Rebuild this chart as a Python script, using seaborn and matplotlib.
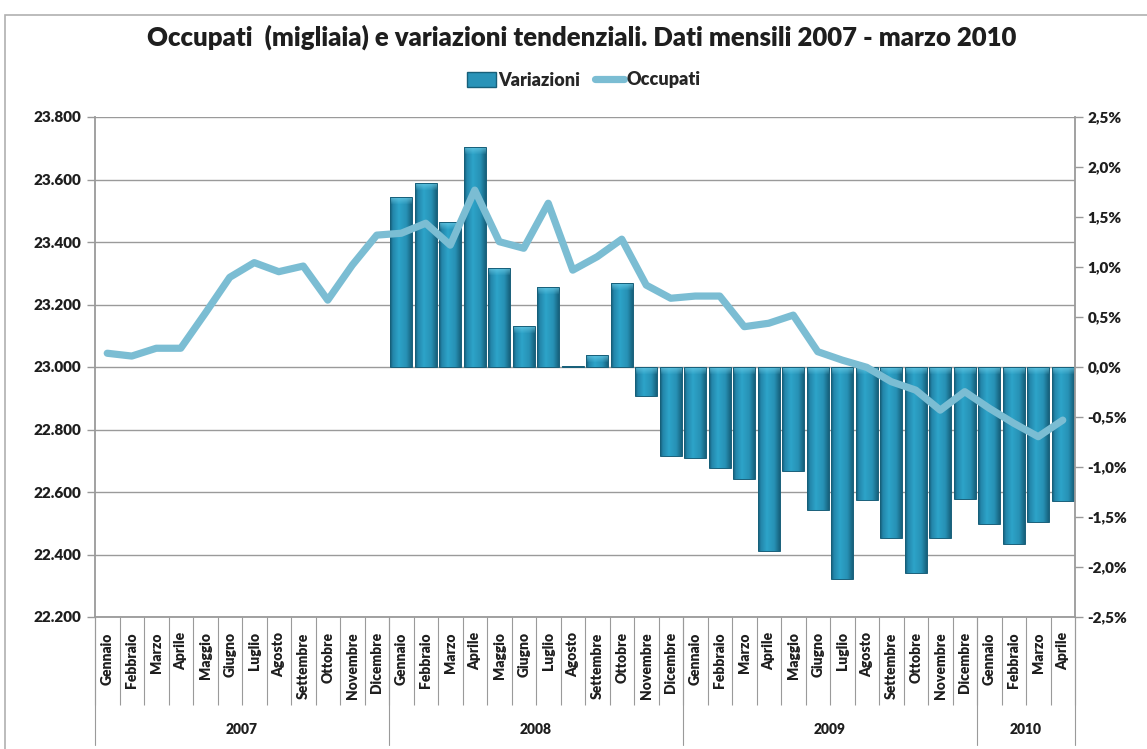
import numpy as np
import pandas as pd
import seaborn as sns
import matplotlib.pyplot as plt
from matplotlib.ticker import FuncFormatter
from matplotlib.patches import Patch, Rectangle
from matplotlib.lines import Line2D
from matplotlib.colors import LinearSegmentedColormap, to_rgb
import matplotlib.transforms as mtransforms

# data
mesi = ["Gennaio", "Febbraio", "Marzo", "Aprile", "Maggio", "Giugno", "Luglio",
        "Agosto", "Settembre", "Ottobre", "Novembre", "Dicembre"]
anni = ["2007", "2008", "2009", "2010"]
mesi_per_anno = [12, 12, 12, 4]

# occupati (migliaia), gennaio 2007 - aprile 2010
occupati = [23044, 23035, 23060, 23060, 23172, 23287, 23334, 23305, 23323, 23214, 23326, 23422,
            23428, 23460, 23390, 23566, 23401, 23380, 23524, 23310, 23353, 23409, 23262, 23220,
            23227, 23227, 23129, 23140, 23166, 23049, 23022, 22999, 22953, 22926, 22862, 22921,
            22868, 22820, 22777, 22830]

# variazioni tendenziali (%), gennaio 2008 - aprile 2010
variazioni = [1.70, 1.84, 1.45, 2.20, 0.99, 0.41, 0.80, 0.01, 0.12, 0.84, -0.29, -0.89,
              -0.91, -1.01, -1.12, -1.84, -1.04, -1.43, -2.12, -1.33, -1.71, -2.06, -1.71, -1.32,
              -1.57, -1.77, -1.55, -1.34]

etichette = [m for n in mesi_per_anno for m in mesi[:n]]
n = len(occupati)
df_occ = pd.DataFrame({"pos": np.arange(n), "Occupati": occupati})
df_var = pd.DataFrame({"pos": np.arange(n - len(variazioni), n), "Variazioni": variazioni})

sns.set_theme(style="white")
plt.rcParams["font.family"] = ["Lato", "DejaVu Sans"]

grigio = "#9a9a9a"
testo = "#1e1e1e"
col_bar = "#2993b8"
col_edge = "#175f79"
col_line = "#7bbdd3"
peso = "heavy"

fig = plt.figure(figsize=(11.47, 7.49), dpi=100)
ax = fig.add_axes([95 / 1147, 1 - 617 / 749, 980 / 1147, 500 / 749])
ax2 = ax.twinx()
ax3 = ax.twinx()

# bars on the right (percent) axis
sns.barplot(data=df_var, x="pos", y="Variazioni", ax=ax2, native_scale=True, width=0.88,
            color=col_bar, saturation=1, edgecolor=col_edge, linewidth=0.7)
# line on the left (thousands) axis
sns.lineplot(data=df_occ, x="pos", y="Occupati", ax=ax3, color=col_line, linewidth=5.2,
             solid_joinstyle="round", solid_capstyle="round")

for a in (ax, ax2, ax3):
    a.set_xlim(-0.5, n - 0.5)
ax.set_ylim(22200, 23800)
ax3.set_ylim(22200, 23800)
ax2.set_ylim(-2.5, 2.5)
ax3.axis("off")

# shaded fill for the bars (excel-like cylinder look)
grad = LinearSegmentedColormap.from_list("barre", [(0, "#155b75"), (0.12, "#2385a9"), (0.4, "#2da4c9"),
                                                   (0.75, "#2791b5"), (1, "#17627d")])
riga = grad(np.linspace(0, 1, 48))[:, :3]
chiaro = np.array(to_rgb("#74d2ec"))
for p in list(ax2.patches):
    x0, w = p.get_x(), p.get_width()
    y_a, y_b = sorted([p.get_y(), p.get_y() + p.get_height()])
    hp = abs(ax2.transData.transform((0, y_b))[1] - ax2.transData.transform((0, y_a))[1])
    hp = max(int(round(hp)), 2)
    img = np.repeat(riga[None, :, :], hp, axis=0)
    cap = min(7, hp)
    for r in range(cap):
        f = 0.65 * (1 - r / cap)
        img[r] = img[r] * (1 - f) + chiaro * f
    im = ax2.imshow(img, extent=(x0, x0 + w, y_a, y_b), aspect="auto", origin="upper",
                    interpolation="bilinear", zorder=p.get_zorder())
    im.set_clip_path(p)
    p.set_facecolor("none")
    p.set_zorder(p.get_zorder() + 0.1)
ax2.set_xlim(-0.5, n - 0.5)
ax2.set_ylim(-2.5, 2.5)

# left axis
ax.set_yticks(np.arange(22200, 23801, 200))
ax.yaxis.set_major_formatter(FuncFormatter(lambda v, p: f"{int(v):,}".replace(",", ".")))
ax.grid(axis="y", color=grigio, linewidth=1)
ax.set_axisbelow(True)
ax.tick_params(axis="y", which="major", left=True, length=6, width=1, color=grigio,
               labelsize=11, labelcolor=testo, pad=4)
for lab in ax.get_yticklabels():
    lab.set_fontweight(peso)

# right axis
ax2.set_yticks(np.arange(-2.5, 2.51, 0.5))
ax2.yaxis.set_major_formatter(FuncFormatter(lambda v, p: f"{v:.1f}%".replace(".", ",")))
ax2.tick_params(axis="y", right=True, length=6, width=1, color=grigio,
                labelsize=11, labelcolor=testo, pad=3)
for lab in ax2.get_yticklabels():
    lab.set_fontweight(peso)
ax2.set_ylabel("")
ax2.set_xlabel("")
ax2.grid(False)

for a in (ax, ax2):
    for s in a.spines.values():
        s.set_visible(False)
ax.spines["left"].set_visible(True)
ax.spines["bottom"].set_visible(True)
ax2.spines["right"].set_visible(True)
for s in (ax.spines["left"], ax.spines["bottom"], ax2.spines["right"]):
    s.set_color(grigio)
    s.set_linewidth(1.3)

# x axis: month labels + separators
ax.set_xticks(np.arange(-0.5, n, 1))
ax.set_xticklabels([])
ax.set_xticks(np.arange(n), minor=True)
ax.set_xticklabels(etichette, minor=True, rotation=90, fontsize=10, fontweight=peso, color=testo)
ax.tick_params(axis="x", which="major", bottom=True, length=63, width=0.8, color=grigio, direction="out")
ax.tick_params(axis="x", which="minor", bottom=True, length=0, pad=11)
ax.set_xlabel("")
ax.set_ylabel("")

# year row
trans = mtransforms.blended_transform_factory(ax.transData, ax.transAxes)
confini = np.concatenate([[0], np.cumsum(mesi_per_anno)]) - 0.5
for c in confini:
    ax.plot([c, c], [0, -0.256], transform=trans, color=grigio, linewidth=0.8, clip_on=False)
for i, anno in enumerate(anni):
    ax.text((confini[i] + confini[i + 1]) / 2, -0.226, anno, transform=trans, ha="center",
            va="center", fontsize=10, fontweight=peso, color=testo)

# title and legend
fig.text(0.507, 1 - 37 / 749, "Occupati  (migliaia) e variazioni tendenziali. Dati mensili 2007 - marzo 2010",
         ha="center", va="center", fontsize=18.5, fontweight=peso, color=testo)
handles = [Patch(facecolor=col_bar, edgecolor=col_edge, label="Variazioni"),
           Line2D([0], [0], color=col_line, linewidth=5.2, label="Occupati")]
fig.legend(handles=handles, loc="center", bbox_to_anchor=(0.509, 1 - 80 / 749), ncol=2, frameon=False,
           prop={"weight": peso, "size": 13}, handlelength=1.6, handleheight=0.9,
           handletextpad=0.15, columnspacing=0.8)

# outer frame
fig.patches.append(Rectangle((5 / 1147, -0.05), 1.2, 1 - 15 / 749 + 0.05, transform=fig.transFigure,
                             fill=False, edgecolor="#b0b0b0", linewidth=1.2))

fig.savefig("out.png", dpi=100)
